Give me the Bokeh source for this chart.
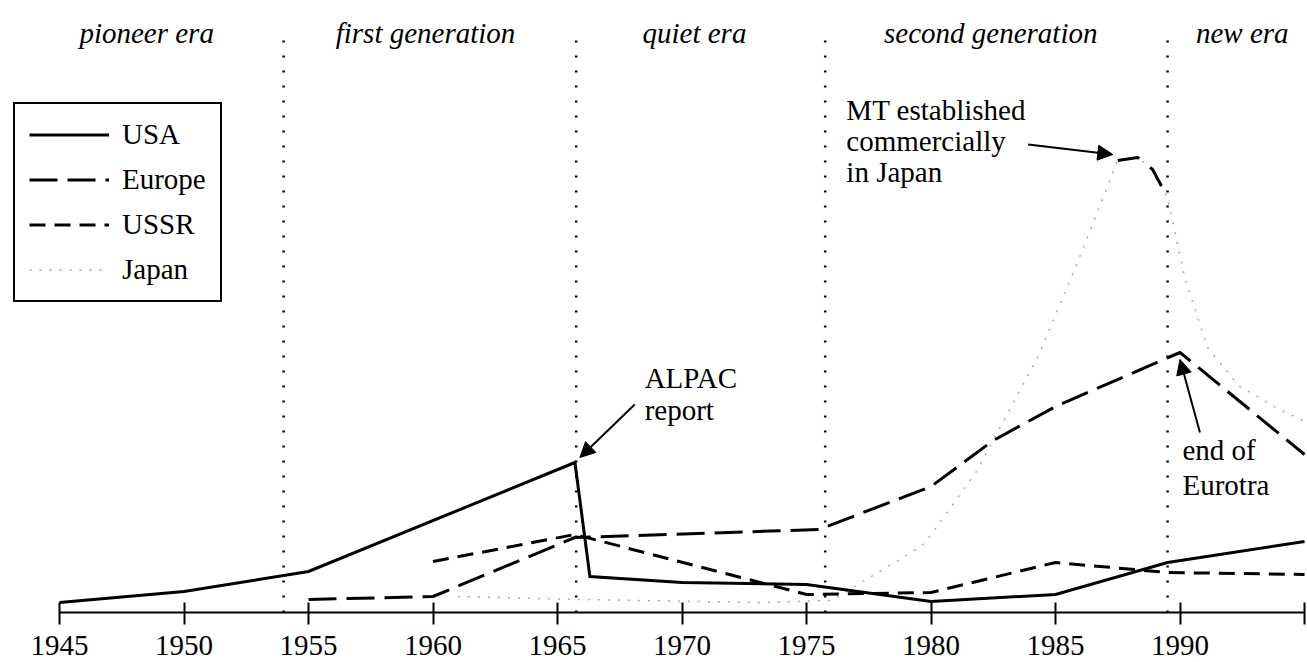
from bokeh.plotting import figure
from bokeh.models import Range1d, LinearAxis, FixedTicker, Legend, LegendItem, Arrow, NormalHead
from bokeh.core.properties import value
from bokeh.embed import file_html
from bokeh.resources import INLINE

# ---- data (arbitrary activity level) ----
usa_years = [1945, 1950, 1955, 1965.7, 1966.3, 1970, 1975, 1980, 1985, 1989.5, 1995]
usa_vals = [2.0, 4.2, 8.2, 30.0, 7.2, 6.0, 5.6, 2.2, 3.6, 10.0, 14.2]

europe_years = [1955, 1960, 1965.7, 1975.5, 1980, 1982.5, 1985, 1990, 1995]
europe_vals = [2.6, 3.2, 15.0, 16.6, 25.2, 34.4, 41.2, 52.0, 31.6]

ussr_years = [1960, 1965.7, 1975, 1980, 1985, 1989.5, 1995]
ussr_vals = [10.2, 15.6, 3.6, 4.0, 10.0, 8.0, 7.6]

japan_years = [1961, 1966, 1973, 1976, 1979.6, 1980.1, 1981.8, 1984.3, 1985.8,
               1987.5, 1988.3, 1988.9, 1989.5, 1990.2, 1991.1, 1992.4, 1994, 1995]
japan_vals = [3.2, 2.6, 2.0, 2.4, 13.2, 16.2, 28.0, 51.2, 69.0,
              90.4, 91.0, 88.6, 83.0, 66.8, 53.0, 45.2, 40.6, 38.2]

era_bounds = [1954, 1965.75, 1975.75, 1989.5]
era_names = ["pioneer era", "first generation", "quiet era", "second generation", "new era"]
era_centers = [1948.5, 1959.7, 1970.5, 1982.4, 1992.5]

tick_years = [1945, 1950, 1955, 1960, 1965, 1970, 1975, 1980, 1985, 1990, 1995]
tick_labels = ["1945", "1950", "1955", "1960", "1965", "1970", "1975", "1980", "1985", "1990", ""]

FONT = "Liberation Serif"
FS = "29px"

p = figure(width=1307, height=662, x_range=Range1d(1942.63, 1995.12), y_range=Range1d(0, 122.4),
           output_backend="svg", toolbar_location=None, x_axis_type=None, y_axis_type=None,
           min_border_left=0, min_border_right=0, min_border_top=0, min_border_bottom=50)
p.outline_line_color = None
p.xgrid.visible = False
p.ygrid.visible = False

ax = LinearAxis(ticker=FixedTicker(ticks=tick_years), bounds=(1945, 1995))
ax.major_label_overrides = {t: l for t, l in zip(tick_years, tick_labels)}
ax.axis_line_width = 2
ax.axis_line_color = "black"
ax.major_tick_line_width = 2
ax.major_tick_line_color = "black"
ax.major_tick_in = 10
ax.major_tick_out = 12
ax.minor_tick_line_color = None
ax.major_label_standoff = 11
ax.major_label_text_font = FONT
ax.major_label_text_font_size = "29px"
ax.major_label_text_color = "black"
p.add_layout(ax, "below")

# era separators
p.segment(x0=era_bounds, y0=[0] * len(era_bounds), x1=era_bounds, y1=[117] * len(era_bounds),
          line_color="black", line_width=2.5, line_dash="2 13")

# era labels
p.text(x=era_centers, y=[116.0] * len(era_centers), text=era_names,
       text_font=value(FONT), text_font_style="italic", text_font_size=FS,
       text_align="center", text_baseline="alphabetic", text_color="black")

# series
r_jp = p.line(japan_years, japan_vals, line_color="#a8a8a8", line_width=1.5, line_dash="2 8")
pk = [(x, y) for x, y in zip(japan_years, japan_vals) if 1987.4 <= x <= 1989.6]
p.line([a for a, b in pk], [b for a, b in pk], line_color="black", line_width=3, line_dash="22 14")
r_us = p.line(usa_years, usa_vals, line_color="black", line_width=3, line_join="miter")
r_eu = p.line(europe_years, europe_vals, line_color="black", line_width=3, line_dash="28 10")
r_su = p.line(ussr_years, ussr_vals, line_color="black", line_width=3, line_dash="16 9")

# annotations
def lines_text(x, ys, texts):
    p.text(x=[x] * len(ys), y=ys, text=texts, text_font=value(FONT), text_font_size=FS,
           text_align="left", text_baseline="alphabetic", text_color="black")

lines_text(1976.6, [100.6, 94.4, 88.2], ["MT established", "commercially", "in Japan"])
lines_text(1968.5, [47.0, 40.6], ["ALPAC", "report"])
lines_text(1990.1, [32.6, 25.6], ["end of", "Eurotra"])

for xs, ys, xe, ye in [(1983.9, 93.6, 1987.3, 91.6), (1968.1, 41.6, 1965.9, 31.0), (1990.8, 36.0, 1990.0, 50.6)]:
    p.add_layout(Arrow(end=NormalHead(size=15, fill_color="black", line_color="black"),
                       x_start=xs, y_start=ys, x_end=xe, y_end=ye, line_width=2, line_color="black"))

legend = Legend(items=[LegendItem(label="USA", renderers=[r_us]),
                       LegendItem(label="Europe", renderers=[r_eu]),
                       LegendItem(label="USSR", renderers=[r_su]),
                       LegendItem(label="Japan", renderers=[r_jp])],
                location=(13, 310), margin=0, padding=14, spacing=12,
                glyph_width=80, glyph_height=33, label_height=33, label_standoff=13,
                label_text_font=FONT, label_text_font_size=FS, label_text_color="black",
                border_line_color="black", border_line_width=2, border_line_alpha=1,
                background_fill_alpha=1)
p.add_layout(legend)

open("out.html", "w").write(file_html(p, INLINE))
